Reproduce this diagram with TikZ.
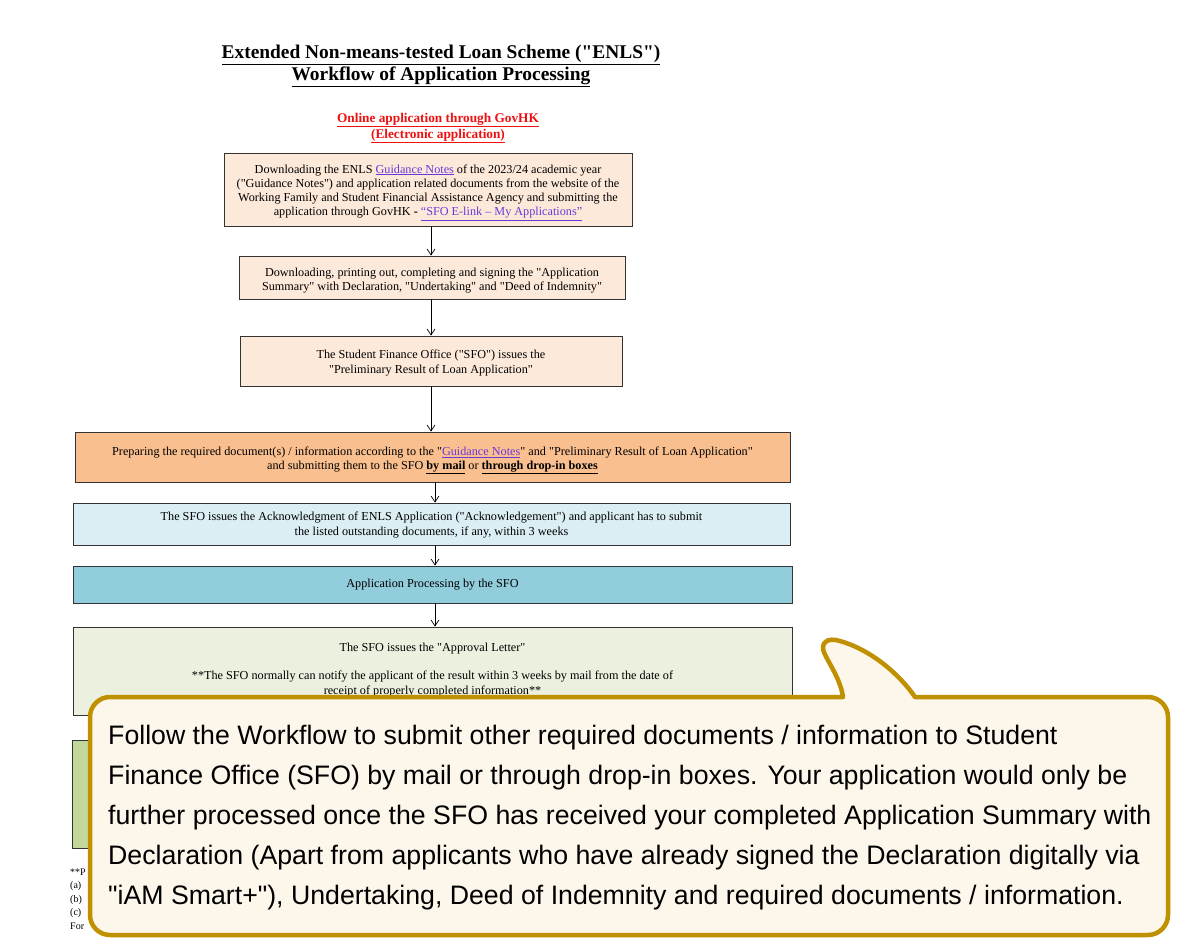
\documentclass[tikz,border=0pt]{standalone}
\usepackage{fontspec}
\newfontfamily\tnr{Liberation Serif}
\setmainfont{Liberation Serif}
\newfontfamily\calloutfont{Liberation Sans}
\usetikzlibrary{arrows.meta}
\definecolor{peach}{HTML}{FDE9D9}
\definecolor{orng}{HTML}{FABF8F}
\definecolor{lblue}{HTML}{DAEEF3}
\definecolor{mblue}{HTML}{92CDDC}
\definecolor{lgreen}{HTML}{EBF1DE}
\definecolor{mgreen}{HTML}{C4D79B}
\definecolor{linkc}{HTML}{6B38D8}
\definecolor{redt}{HTML}{EE1111}
\definecolor{gold}{HTML}{BF9000}
\definecolor{cream}{HTML}{FDF6EA}
\newcommand{\lnk}[1]{\textcolor{linkc}{\underline{#1}}}
\tikzset{
  box/.style={draw=black!80, line width=0.8pt, inner sep=0pt},
  txt/.style={align=center, inner sep=0pt, font=\tnr\fontsize{12.2}{14.2}\selectfont},
  arr/.style={-{Straight Barb[length=6pt,width=8pt]}, line width=0.7pt},
  callout/.style={draw=gold, fill=cream, line width=4.5pt, line join=round},
  foot/.style={anchor=west, inner sep=0pt, align=left, font=\tnr\fontsize{10}{13.5}\selectfont}
}
\begin{document}
\begin{tikzpicture}[x=1pt,y=-1pt]
\useasboundingbox[fill=white] (0,0) rectangle (1200,950);

\node[align=center, inner sep=0pt, font=\tnr\bfseries\fontsize{19.4}{22}\selectfont] (title) at (441,66)
  {\underline{Extended Non-means-tested Loan Scheme ("ENLS")}\\ \underline{Workflow of Application Processing}};
\node[align=center, inner sep=0pt, text=redt, font=\tnr\bfseries\fontsize{13.3}{16}\selectfont] (sub) at (438,128)
  {\underline{Online application through GovHK}\\ \underline{(Electronic application)}};

\node[box, fill=peach, minimum width=408pt, minimum height=73pt] (b1) at (428,189.5) {};
\node[txt] (t1) at (428,192.5)
  {Downloading the ENLS \lnk{Guidance Notes} of the 2023/24 academic year\\
   ("Guidance Notes") and application related documents from the website of the\\
   Working Family and Student Financial Assistance Agency and submitting the\\
   application through GovHK \textbf{-} \lnk{“SFO E-link – My Applications”}};
\node[box, fill=peach, minimum width=386pt, minimum height=43pt] (b2) at (432,277.5) {};
\node[txt] (t2) at (432,280.5)
  {Downloading, printing out, completing and signing the "Application\\
   Summary" with Declaration, "Undertaking" and "Deed of Indemnity"};
\node[box, fill=peach, minimum width=382pt, minimum height=50pt] (b3) at (431,361) {};
\node[txt] (t3) at (431,363)
  {The Student Finance Office ("SFO") issues the\\
   "Preliminary Result of Loan Application"};
\node[box, fill=orng, minimum width=715pt, minimum height=50pt] (b4) at (432.5,457) {};
\node[txt] (t4) at (432.5,460.5)
  {Preparing the required document(s) / information according to the "\lnk{Guidance Notes}" and "Preliminary Result of Loan Application"\\
   and submitting them to the SFO \underline{\textbf{by mail}} or \underline{\textbf{through drop-in boxes}}};
\node[box, fill=lblue, minimum width=717pt, minimum height=42pt] (b5) at (431.5,524) {};
\node[txt] (t5) at (431.5,525)
  {The SFO issues the Acknowledgment of ENLS Application ("Acknowledgement") and applicant has to submit\\
   the listed outstanding documents, if any, within 3 weeks};
\node[box, fill=mblue, minimum width=719pt, minimum height=37pt] (b6) at (432.5,584.5) {};
\node[txt] (t6) at (432.5,585) {Application Processing by the SFO};
\node[box, fill=lgreen, minimum width=719pt, minimum height=88pt] (b7) at (432.5,671) {};
\node[txt] (t7) at (432.5,670)
  {The SFO issues the "Approval Letter"\\[14pt]
   **The SFO normally can notify the applicant of the result within 3 weeks by mail from the date of\\
   receipt of properly completed information**};
\node[box, fill=mgreen, minimum width=720pt, minimum height=108pt] (b8) at (432,794) {};

\coordinate (ax1) at (431,0);
\coordinate (ax2) at (435,0);
\draw[arr] (b1.south -| ax1) -- (b2.north -| ax1);
\draw[arr] (b2.south -| ax1) -- (b3.north -| ax1);
\draw[arr] (b3.south -| ax1) -- (b4.north -| ax1);
\draw[arr] (b4.south -| ax2) -- (b5.north -| ax2);
\draw[arr] (b5.south -| ax2) -- (b6.north -| ax2);
\draw[arr] (b6.south -| ax2) -- (b7.north -| ax2);

\node[foot] (fn) at (70,899) {**P\\(a)\\(b)\\(c)\\For};

\draw[callout] (843,697) -- (110,697) .. controls (99,697) and (90,706) .. (90,717)
  -- (90,915) .. controls (90,926) and (99,935) .. (110,935)
  -- (1148,935) .. controls (1159,935) and (1168,926) .. (1168,915)
  -- (1168,717) .. controls (1168,706) and (1159,697) .. (1148,697)
  -- (915,697) .. controls (900,675) and (870,648) .. (836,640)
  .. controls (830,639) and (824,640) .. (823,647)
  .. controls (822,655) and (840,675) .. (843,697) -- cycle;

\node[anchor=north west, inner sep=0pt, align=left,
  font=\calloutfont\fontsize{26.7}{40}\selectfont] (ctext) at (108,725)
  {Follow the Workflow to submit other required documents / information to Student\\
   Finance Office (SFO) by mail or through drop-in boxes. Your application would only be\\
   further processed once the SFO has received your completed Application Summary with\\
   Declaration (Apart from applicants who have already signed the Declaration digitally via\\
   "iAM Smart+"), Undertaking, Deed of Indemnity and required documents / information.};
\end{tikzpicture}
\end{document}
